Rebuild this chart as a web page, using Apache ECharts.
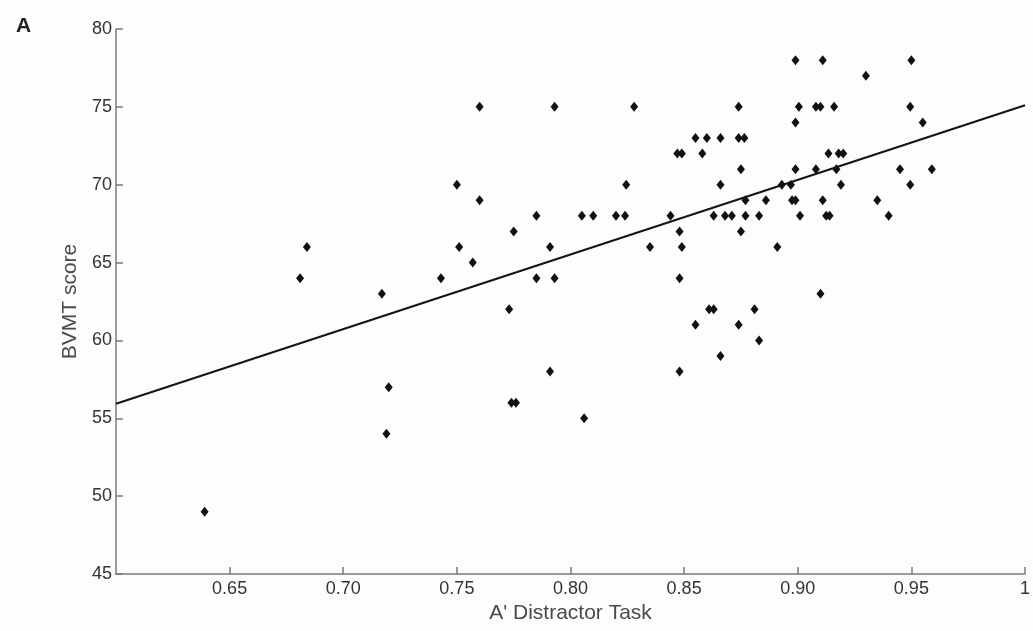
<!DOCTYPE html>
<html>
<head>
<meta charset="utf-8">
<script src="https://cdn.jsdelivr.net/npm/echarts@6/dist/echarts.min.js"></script>
<style>
html, body { margin: 0; padding: 0; background: #fdfdfe; }
#chart { width: 1033px; height: 631px; }
</style>
</head>
<body>
<div id="chart"></div>
<script>
// A' distractor task score vs BVMT score
const aPrime = [
    0.639, 0.681, 0.684, 0.717, 0.720, 0.719, 0.743, 0.750, 0.751, 0.757,
    0.760, 0.760, 0.773, 0.775, 0.774, 0.776, 0.785, 0.785, 0.791, 0.791,
    0.793, 0.793, 0.805, 0.806, 0.810, 0.820, 0.824, 0.8245, 0.828, 0.835,
    0.844, 0.847, 0.849, 0.848, 0.849, 0.848, 0.848, 0.855, 0.858, 0.855,
    0.860, 0.861, 0.863, 0.863, 0.866, 0.866, 0.866, 0.868, 0.871, 0.874,
    0.874, 0.8765, 0.875, 0.875, 0.874, 0.877, 0.877, 0.881, 0.883, 0.883,
    0.886, 0.891, 0.893, 0.897, 0.8975, 0.899, 0.899, 0.899, 0.899, 0.9005,
    0.901, 0.908, 0.908, 0.910, 0.911, 0.911, 0.910, 0.9125, 0.914, 0.9135,
    0.916, 0.917, 0.918, 0.920, 0.919, 0.930, 0.935, 0.940, 0.945, 0.950,
    0.9495, 0.9495, 0.955, 0.959
];
const bvmt = [
    49, 64, 66, 63, 57, 54, 64, 70, 66, 65,
    75, 69, 62, 67, 56, 56, 68, 64, 66, 58,
    75, 64, 68, 55, 68, 68, 68, 70, 75, 66,
    68, 72, 72, 67, 66, 64, 58, 73, 72, 61,
    73, 62, 62, 68, 73, 70, 59, 68, 68, 75,
    73, 73, 71, 67, 61, 69, 68, 62, 68, 60,
    69, 66, 70, 70, 69, 69, 78, 74, 71, 75,
    68, 71, 75, 75, 78, 69, 63, 68, 68, 72,
    75, 71, 72, 72, 70, 77, 69, 68, 71, 78,
    75, 70, 74, 71
];
// least squares fit line end points
const fitX = [0.6, 1.0];
const fitY = [55.93, 75.1];

const xTicks = { min: 0.6, max: 1, step: 0.05 };
const yTicks = { min: 45, max: 80, step: 5 };

let myChart = echarts.init(document.getElementById('chart'));

let font = 'Liberation Sans, Arial, sans-serif';
let axisGrey = '#7a7a7a';

myChart.setOption({
    backgroundColor: '#fdfdfe',
    animation: false,
    title: {
        text: 'A',
        left: 11,
        top: 11,
        textStyle: { fontFamily: font, fontSize: 21, fontWeight: 'bold', color: '#222' }
    },
    grid: { left: 116, right: 7, top: 29, bottom: 57 },
    xAxis: {
        type: 'value',
        min: xTicks.min,
        max: xTicks.max,
        interval: xTicks.step,
        name: "A' Distractor Task",
        nameLocation: 'middle',
        nameGap: 25,
        nameTextStyle: { fontFamily: font, fontSize: 21, color: '#4a4a4a' },
        splitLine: { show: false },
        axisLine: { lineStyle: { color: axisGrey, width: 1.5 } },
        axisTick: { inside: true, length: 7, lineStyle: { color: axisGrey, width: 1.5 } },
        axisLabel: {
            fontFamily: font, fontSize: 18, color: '#333', margin: 6,
            showMinLabel: false,
            formatter: function (v) {
                if (Math.abs(v - 1) < 1e-9) return '1';
                return v.toFixed(2);
            }
        }
    },
    yAxis: {
        type: 'value',
        min: yTicks.min,
        max: yTicks.max,
        interval: yTicks.step,
        name: 'BVMT score',
        nameLocation: 'middle',
        nameGap: 34,
        nameTextStyle: { fontFamily: font, fontSize: 21, color: '#4a4a4a' },
        splitLine: { show: false },
        axisLine: { lineStyle: { color: axisGrey, width: 1.5 } },
        axisTick: { inside: true, length: 7, lineStyle: { color: axisGrey, width: 1.5 } },
        axisLabel: { fontFamily: font, fontSize: 18, color: '#333', margin: 4 }
    },
    series: [
        {
            name: 'fit',
            type: 'line',
            data: fitX.map((x, i) => [x, fitY[i]]),
            symbol: 'none',
            lineStyle: { color: '#151515', width: 2.2 },
            z: 2
        },
        {
            name: 'subjects',
            type: 'scatter',
            data: aPrime.map((x, i) => [x, bvmt[i]]),
            symbol: 'diamond',
            symbolSize: [8, 10],
            itemStyle: { color: '#111', opacity: 1 },
            z: 3
        }
    ]
});
</script>
</body>
</html>
